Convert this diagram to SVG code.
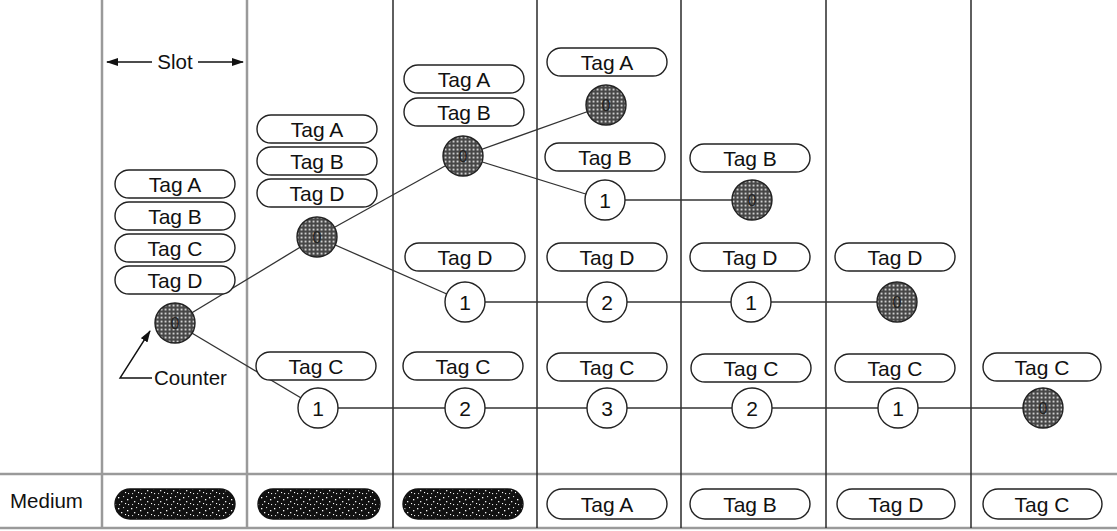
<svg xmlns="http://www.w3.org/2000/svg" width="1117" height="531" viewBox="0 0 1117 531">
<defs>
<style>
.grid-g{stroke:#9a9a9a;stroke-width:2.5;fill:none}
.grid-d{stroke:#2a2a2a;stroke-width:1.5;fill:none}
.pill{fill:#fff;stroke:#222;stroke-width:1.4}
.mpill{fill:url(#speck);stroke:#111;stroke-width:1.4}
.txt{font-family:"Liberation Sans",Arial,sans-serif;font-size:21px;fill:#111;text-anchor:middle}
.lbl{font-family:"Liberation Sans",Arial,sans-serif;font-size:20.5px;fill:#111}
.cnt{fill:#fff;stroke:#222;stroke-width:1.4}
.hat{fill:url(#hatch);stroke:#222;stroke-width:1.4}
.zero{font-family:"Liberation Sans",Arial,sans-serif;font-size:16px;fill:#222;text-anchor:middle}
.link{stroke:#333;stroke-width:1.3;fill:none}
.arr{stroke:#111;stroke-width:1.4;fill:none}
</style>
<pattern id="hatch" patternUnits="userSpaceOnUse" width="4" height="4">
<rect width="4" height="4" fill="#474747"/>
<rect x="0.6" y="0.6" width="1.9" height="1.9" fill="#cfcfcf"/>
</pattern>
<pattern id="speck" patternUnits="userSpaceOnUse" width="13" height="11">
<rect width="13" height="11" fill="#111"/>
<rect x="1" y="2" width="1.3" height="1.3" fill="#fff"/>
<rect x="6" y="1" width="1.1" height="1.1" fill="#ddd"/>
<rect x="10" y="4" width="1.3" height="1.3" fill="#fff"/>
<rect x="4" y="6" width="1.3" height="1.3" fill="#eee"/>
<rect x="8" y="8" width="1.1" height="1.1" fill="#fff"/>
<rect x="2" y="9" width="1.1" height="1.1" fill="#ccc"/>
<rect x="11" y="9" width="1.1" height="1.1" fill="#eee"/>
</pattern>
<marker id="ah" viewBox="0 0 12 8" refX="11" refY="4" markerWidth="12" markerHeight="8" markerUnits="userSpaceOnUse" orient="auto">
<path d="M0,0 L12,4 L0,8 Z" fill="#111"/>
</marker>
</defs>

<g id="grid">
<line class="grid-g" x1="0" y1="474" x2="1117" y2="474"/>
<line class="grid-g" x1="0" y1="528" x2="1117" y2="528"/>
<line class="grid-g" x1="102" y1="0" x2="102" y2="528"/>
<line class="grid-g" x1="247" y1="0" x2="247" y2="528"/>
<line class="grid-d" x1="393" y1="0" x2="393" y2="528"/>
<line class="grid-d" x1="537" y1="0" x2="537" y2="528"/>
<line class="grid-d" x1="681" y1="0" x2="681" y2="528"/>
<line class="grid-d" x1="826" y1="0" x2="826" y2="528"/>
<line class="grid-d" x1="971" y1="0" x2="971" y2="528"/>
</g>

<g id="slot-label">
<line class="arr" x1="152" y1="62" x2="107" y2="62" marker-end="url(#ah)"/>
<line class="arr" x1="198" y1="62" x2="243" y2="62" marker-end="url(#ah)"/>
<text class="lbl" x="175" y="69" text-anchor="middle">Slot</text>
</g>

<g id="counter-label">
<polyline class="arr" points="152,378 120,378 150,331" marker-end="url(#ah)"/>
<text class="lbl" x="154" y="385">Counter</text>
</g>

<g id="connectors">
<line class="link" x1="175" y1="323" x2="317" y2="237"/>
<line class="link" x1="175" y1="323" x2="318" y2="408"/>
<line class="link" x1="317" y1="237" x2="463" y2="156"/>
<line class="link" x1="317" y1="237" x2="465" y2="302"/>
<line class="link" x1="463" y1="156" x2="606" y2="105"/>
<line class="link" x1="463" y1="156" x2="605" y2="200"/>
<line class="link" x1="605" y1="200" x2="752" y2="200"/>
<line class="link" x1="465" y1="302" x2="897" y2="302"/>
<line class="link" x1="318" y1="408" x2="1043" y2="408"/>
</g>

<g id="col1">
<rect class="pill" x="115" y="170" width="120" height="28" rx="14"/><text class="txt" x="175" y="191.5">Tag A</text>
<rect class="pill" x="115" y="202" width="120" height="28" rx="14"/><text class="txt" x="175" y="223.5">Tag B</text>
<rect class="pill" x="115" y="234" width="120" height="28" rx="14"/><text class="txt" x="175" y="255.5">Tag C</text>
<rect class="pill" x="115" y="266" width="120" height="28" rx="14"/><text class="txt" x="175" y="287.5">Tag D</text>
<circle class="hat" cx="175" cy="323" r="20"/><text class="zero" x="175" y="329">0</text>
</g>

<g id="col2">
<rect class="pill" x="257" y="115" width="120" height="28" rx="14"/><text class="txt" x="317" y="136.5">Tag A</text>
<rect class="pill" x="257" y="147" width="120" height="28" rx="14"/><text class="txt" x="317" y="168.5">Tag B</text>
<rect class="pill" x="257" y="179" width="120" height="28" rx="14"/><text class="txt" x="317" y="200.5">Tag D</text>
<circle class="hat" cx="317" cy="237" r="20"/><text class="zero" x="317" y="243">0</text>
<rect class="pill" x="256" y="352" width="120" height="28" rx="14"/><text class="txt" x="316" y="373.5">Tag C</text>
<circle class="cnt" cx="318" cy="408" r="20"/><text class="txt" x="318" y="415.5">1</text>
</g>

<g id="col3">
<rect class="pill" x="404" y="65" width="120" height="28" rx="14"/><text class="txt" x="464" y="86.5">Tag A</text>
<rect class="pill" x="404" y="98" width="120" height="28" rx="14"/><text class="txt" x="464" y="119.5">Tag B</text>
<circle class="hat" cx="463" cy="156" r="20"/><text class="zero" x="463" y="162">0</text>
<rect class="pill" x="405" y="243" width="120" height="28" rx="14"/><text class="txt" x="465" y="264.5">Tag D</text>
<circle class="cnt" cx="465" cy="302" r="20"/><text class="txt" x="465" y="309.5">1</text>
<rect class="pill" x="403" y="352" width="120" height="28" rx="14"/><text class="txt" x="463" y="373.5">Tag C</text>
<circle class="cnt" cx="465" cy="408" r="20"/><text class="txt" x="465" y="415.5">2</text>
</g>

<g id="col4">
<rect class="pill" x="547" y="48" width="120" height="28" rx="14"/><text class="txt" x="607" y="69.5">Tag A</text>
<circle class="hat" cx="606" cy="105" r="20"/><text class="zero" x="606" y="111">0</text>
<rect class="pill" x="545" y="143" width="120" height="28" rx="14"/><text class="txt" x="605" y="164.5">Tag B</text>
<circle class="cnt" cx="605" cy="200" r="20"/><text class="txt" x="605" y="207.5">1</text>
<rect class="pill" x="547" y="243" width="120" height="28" rx="14"/><text class="txt" x="607" y="264.5">Tag D</text>
<circle class="cnt" cx="607" cy="302" r="20"/><text class="txt" x="607" y="309.5">2</text>
<rect class="pill" x="547" y="353" width="120" height="28" rx="14"/><text class="txt" x="607" y="374.5">Tag C</text>
<circle class="cnt" cx="607" cy="408" r="20"/><text class="txt" x="607" y="415.5">3</text>
</g>

<g id="col5">
<rect class="pill" x="690" y="144" width="120" height="28" rx="14"/><text class="txt" x="750" y="165.5">Tag B</text>
<circle class="hat" cx="752" cy="200" r="20"/><text class="zero" x="752" y="206">0</text>
<rect class="pill" x="690" y="243" width="120" height="28" rx="14"/><text class="txt" x="750" y="264.5">Tag D</text>
<circle class="cnt" cx="751" cy="302" r="20"/><text class="txt" x="751" y="309.5">1</text>
<rect class="pill" x="691" y="354" width="120" height="28" rx="14"/><text class="txt" x="751" y="375.5">Tag C</text>
<circle class="cnt" cx="752" cy="408" r="20"/><text class="txt" x="752" y="415.5">2</text>
</g>

<g id="col6">
<rect class="pill" x="835" y="243" width="120" height="28" rx="14"/><text class="txt" x="895" y="264.5">Tag D</text>
<circle class="hat" cx="897" cy="302" r="20"/><text class="zero" x="897" y="308">0</text>
<rect class="pill" x="835" y="354" width="120" height="28" rx="14"/><text class="txt" x="895" y="375.5">Tag C</text>
<circle class="cnt" cx="898" cy="408" r="20"/><text class="txt" x="898" y="415.5">1</text>
</g>

<g id="col7">
<rect class="pill" x="983" y="353" width="118" height="28" rx="14"/><text class="txt" x="1042" y="374.5">Tag C</text>
<circle class="hat" cx="1043" cy="408" r="20"/><text class="zero" x="1043" y="414">0</text>
</g>

<g id="medium">
<text class="lbl" x="10" y="508">Medium</text>
<rect class="mpill" x="115" y="489" width="120" height="30" rx="15"/>
<rect class="mpill" x="258" y="489" width="122" height="30" rx="15"/>
<rect class="mpill" x="403" y="489" width="120" height="30" rx="15"/>
<rect class="pill" x="547" y="489" width="120" height="30" rx="15"/><text class="txt" x="607" y="511.5">Tag A</text>
<rect class="pill" x="690" y="489" width="120" height="30" rx="15"/><text class="txt" x="750" y="511.5">Tag B</text>
<rect class="pill" x="837" y="489" width="118" height="30" rx="15"/><text class="txt" x="896" y="511.5">Tag D</text>
<rect class="pill" x="983" y="489" width="119" height="30" rx="15"/><text class="txt" x="1042" y="511.5">Tag C</text>
</g>
</svg>
